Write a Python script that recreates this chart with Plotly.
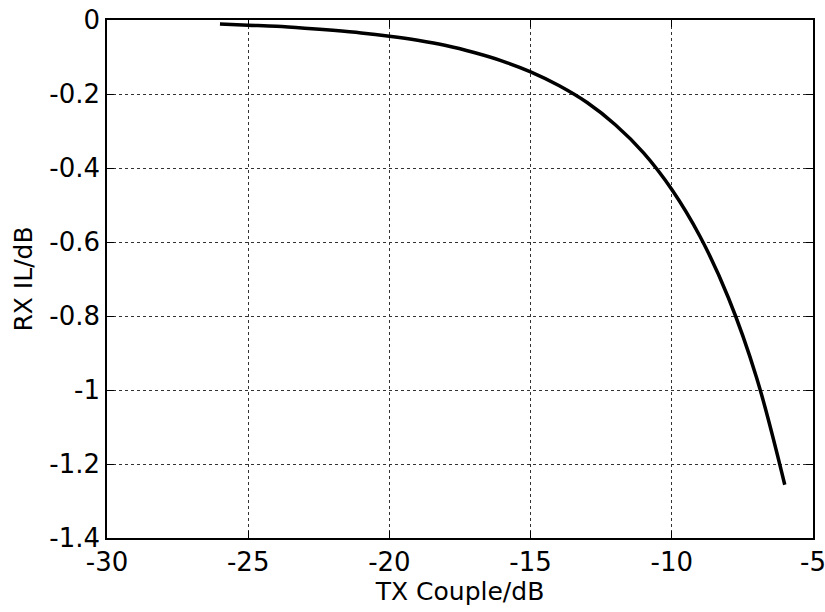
import plotly.graph_objects as go

tx_couple = [-26, -25, -24, -23, -22, -21, -20, -19, -18, -17, -16, -15, -14, -13, -12, -11, -10, -9, -8, -7, -6]
rx_il = [-0.011, -0.014, -0.017, -0.022, -0.028, -0.035, -0.044, -0.055, -0.069, -0.088, -0.111, -0.140, -0.177,
         -0.223, -0.283, -0.359, -0.458, -0.585, -0.750, -0.966, -1.256]

x_ticks = [-30, -25, -20, -15, -10, -5]
y_ticks = [0, -0.2, -0.4, -0.6, -0.8, -1, -1.2, -1.4]
y_labels = ["0", "-0.2", "-0.4", "-0.6", "-0.8", "-1", "-1.2", "-1.4"]

FONT = "DejaVu Sans, Liberation Sans, Arial"

fig = go.Figure()
fig.add_trace(go.Scatter(x=tx_couple, y=rx_il, mode="lines", line=dict(color="black", width=3.5, shape="spline")))

axis_common = dict(
    showline=True, linecolor="black", linewidth=1.5, mirror="ticks",
    ticks="inside", ticklen=7, tickcolor="black", tickwidth=1,
    showgrid=True, gridcolor="#333333", gridwidth=1, griddash="dot",
    zeroline=False, automargin=False, ticklabeloverflow="allow",
    tickfont=dict(family=FONT, size=26, color="black"),
)

fig.update_layout(
    width=825, height=612,
    paper_bgcolor="white", plot_bgcolor="white",
    margin=dict(l=107, r=12, t=20, b=74),
    showlegend=False,
    font=dict(family=FONT, color="black"),
    xaxis=dict(range=[-30, -5], tickvals=x_ticks, ticktext=[str(v) for v in x_ticks],
               title=dict(text="TX Couple/dB", font=dict(family=FONT, size=25), standoff=4), **axis_common),
    yaxis=dict(range=[-1.4, 0], tickvals=y_ticks, ticktext=y_labels,
               title=dict(text="RX IL/dB", font=dict(family=FONT, size=25), standoff=10), **axis_common),
)

fig.write_html("out.html")
